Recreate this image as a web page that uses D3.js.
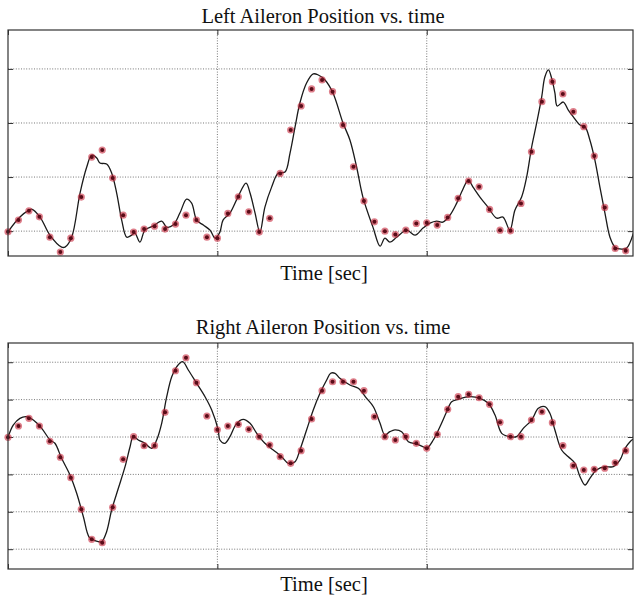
<!DOCTYPE html>
<html><head><meta charset="utf-8">
<script src="https://cdn.jsdelivr.net/npm/d3@7"></script>
<style>body{margin:0;background:#fff}svg{display:block}text{font-family:"Liberation Serif","Times New Roman",serif;fill:#111}</style>
</head><body>
<svg id="c" width="634" height="596"></svg>
<script>
// ---------- data ----------
const titles = ["Left Aileron Position vs. time", "Right Aileron Position vs. time"];
const xLabel = "Time [sec]";
const xTicks = [0, 10, 20, 30];
const topYTicks = [0, 5, 10, 15];
const botYTicks = [-15, -10, -5, 0, 5, 10];

const markerTime = [0,0.5,1,1.5,2,2.5,3,3.5,4,4.5,5,5.5,6,6.5,7,7.5,8,8.5,9,9.5,
  10,10.5,11,11.5,12,12.5,13,13.5,14,14.5,15,15.5,16,16.5,17,17.5,18,18.5,19,19.5,
  20,20.5,21,21.5,22,22.5,23,23.5,24,24.5,25,25.5,26,26.5,27,27.5,28,28.5,29,29.5];

const topMarkers = [-0.06,1.02,1.88,1.32,-0.56,-1.94,-0.65,3.15,6.85,7.5,
  4.91,1.48,-0.09,0.19,0.46,0.19,0.65,1.48,1.02,-0.56,
  -0.65,1.64,3.18,1.79,-0.09,1.18,5.34,9.35,11.57,13.15,
  13.98,12.9,9.81,5.95,2.78,0.86,0,-0.31,0.09,0.71,
  0.77,0.56,1.27,3.03,4.63,4.1,2.01,0.09,0.03,2.56,
  7.34,11.97,13.82,12.69,11.05,9.66,6.94,2.19,-1.6,-1.82];

const topLineT = [0,0.57,1.0,1.13,1.53,2.0,2.56,2.72,3.04,3.44,3.76,4.0,4.24,4.39,4.71,4.95,5.19,5.43,5.67,5.91,
  6.06,6.3,6.54,6.92,7.34,7.58,7.89,8.21,8.53,8.77,9.01,9.33,9.65,9.89,10.12,10.27,10.6,10.98,11.37,11.56,
  11.8,12.03,12.27,12.59,12.91,13.23,13.47,13.71,13.94,14.26,14.58,14.82,15.14,15.52,16.0,16.33,16.65,16.95,17.43,17.77,
  18.0,18.24,18.56,19.04,19.44,19.82,20.15,20.47,20.77,21.11,21.43,21.71,21.98,22.21,22.54,22.92,23.34,23.64,23.97,24.21,
  24.53,24.77,25.01,25.25,25.49,25.64,25.81,25.96,26.12,26.23,26.52,26.76,27.0,27.32,27.56,27.79,28.03,28.27,28.51,28.75,
  28.99,29.31,29.55,29.87];
const topLineV = [-0.06,1.3,1.94,2.04,1.3,-0.37,-1.48,-1.48,-0.56,3.52,5.93,7.04,6.76,6.3,6.2,5.37,3.52,1.02,-0.56,-0.37,
  -0.19,-1.02,0.09,0.46,0.93,0.37,0.56,1.67,2.96,2.59,1.02,0.56,0.09,-0.65,-0.09,1.02,1.67,3.15,4.44,3.52,
  1.67,-0.09,2.22,4.07,5.37,5.46,7.22,9.63,11.85,13.7,14.54,14.44,13.98,12.78,10.0,8.43,5.93,3.15,0.37,-1.39,
  -0.65,-1.02,-0.56,0.09,-0.37,0.28,0.74,0.93,0.83,1.48,2.59,3.8,4.72,4.07,3.15,2.22,1.2,1.3,0.09,1.94,
  3.15,5.0,7.78,10.0,12.41,14.26,14.91,14.17,12.78,11.57,11.94,11.2,10.56,9.81,9.63,8.43,6.57,4.07,1.67,-0.56,
  -1.48,-1.67,-1.57,-0.19];

const botMarkers = [-0.04,1.47,2.5,1.47,-0.57,-2.71,-5.44,-9.67,-13.68,-14.13,
  -9.4,-2.98,0.04,-1.16,-1.16,3.3,8.86,10.6,7.26,2.81,
  0.97,1.47,1.7,1.03,0.04,-1.07,-2.63,-3.52,-1.83,2.41,
  6.19,7.39,7.39,7.39,6.19,2.71,0.04,-0.4,0.04,-0.84,
  -1.51,0.36,3.7,5.39,5.71,5.25,4.37,1.97,0.04,0.04,
  2.27,3.38,1.91,-1.16,-3.84,-4.41,-4.32,-4.18,-3.44,-1.83];

const botLineT = [0,0.25,0.57,0.89,1.21,1.61,2.01,2.24,2.56,2.96,3.28,3.6,3.88,4.15,4.47,4.71,4.95,5.27,5.59,5.83,
  5.98,6.22,6.54,6.86,7.1,7.34,7.58,7.82,8.06,8.34,8.61,9.01,9.41,9.73,10.04,10.12,10.36,10.6,10.92,11.24,
  11.56,11.88,12.27,12.67,13.07,13.39,13.71,13.94,14.26,14.58,14.9,15.22,15.41,15.62,15.85,16.33,16.73,17.13,17.45,17.77,
  18.0,18.24,18.48,18.8,19.12,19.52,19.83,20.0,20.31,20.63,20.95,21.19,21.5,22.06,22.54,22.94,23.26,23.58,23.97,24.29,
  24.61,25.01,25.33,25.64,25.88,26.12,26.44,26.76,27.08,27.32,27.56,27.79,28.11,28.51,28.91,29.23,29.47,29.71,29.85];
const botLineV = [-0.04,1.6,2.5,2.71,2.27,1.16,-0.4,-0.84,-2.85,-5.08,-7.53,-10.66,-13.41,-13.86,-14.0,-12.66,-9.76,-6.86,-3.97,-1.3,
  0.04,-0.4,-0.84,-1.51,-0.4,1.83,5.39,8.06,9.4,10.07,8.96,7.18,5.39,3.61,0.94,-0.4,-0.84,0.04,1.83,2.37,
  1.83,0.49,-0.84,-1.74,-2.63,-3.52,-3.3,-1.74,0.94,3.61,5.84,7.62,8.52,8.52,7.85,6.95,6.51,5.17,4.05,1.83,
  0.27,0.71,0.94,0.71,-0.63,-0.94,-1.3,-1.51,-0.4,1.38,3.38,4.72,5.04,5.39,5.17,4.51,2.94,0.49,0.04,0.04,
  1.16,2.27,3.84,4.05,3.17,0.94,-1.74,-2.63,-3.52,-5.31,-6.42,-5.52,-4.41,-3.97,-3.97,-3.07,-1.51,-0.63,-0.31];

// ---------- drawing ----------
const svg = d3.select("#c");
const X0 = 8, X1 = 633;

function panel(cfg) {
  const x = d3.scaleLinear().domain([0, 29.85]).range([X0, X1]);
  const y = d3.scaleLinear().domain(cfg.yDomain).range([cfg.bottom, cfg.top]);
  const g = svg.append("g");
  const clipId = "clip" + cfg.id;
  svg.append("defs").append("clipPath").attr("id", clipId)
    .append("rect").attr("x", X0).attr("y", cfg.top).attr("width", X1 - X0).attr("height", cfg.bottom - cfg.top);

  // grid
  g.append("g").selectAll("line").data(cfg.yTicks).join("line")
    .attr("x1", X0).attr("x2", X1).attr("y1", d => y(d)).attr("y2", d => y(d))
    .attr("stroke", "#777").attr("stroke-width", 1).attr("stroke-dasharray", "1,1.6");
  g.append("g").selectAll("line").data(xTicks.filter(d => x(d) > X0 + 1 && x(d) < X1 - 1)).join("line")
    .attr("y1", cfg.top).attr("y2", cfg.bottom).attr("x1", d => x(d)).attr("x2", d => x(d))
    .attr("stroke", "#777").attr("stroke-width", 1).attr("stroke-dasharray", "1,1.6");

  // axes ticks (inward, no labels)
  const ax = [
    [d3.axisRight(y).tickValues(cfg.yTicks), X0],
    [d3.axisLeft(y).tickValues(cfg.yTicks), X1]];
  ax.forEach(([a, tx]) => {
    const ag = g.append("g").attr("transform", `translate(${tx},0)`)
      .call(a.tickSize(5).tickFormat(""));
    ag.select(".domain").remove();
    ag.selectAll("line").attr("stroke", "#333");
  });
  const axX = [
    [d3.axisTop(x).tickValues(xTicks.filter(d => x(d) <= X1)), cfg.bottom],
    [d3.axisBottom(x).tickValues(xTicks.filter(d => x(d) <= X1)), cfg.top]];
  axX.forEach(([a, ty]) => {
    const ag = g.append("g").attr("transform", `translate(0,${ty})`)
      .call(a.tickSize(5).tickFormat(""));
    ag.select(".domain").remove();
    ag.selectAll("line").attr("stroke", "#333");
  });

  // line
  const pts = cfg.lineT.map((t, i) => [t, cfg.lineV[i]]);
  g.append("path").datum(pts)
    .attr("clip-path", `url(#${clipId})`)
    .attr("fill", "none").attr("stroke", "#1a1a1a").attr("stroke-width", 1.3)
    .attr("d", d3.line().x(d => x(d[0])).y(d => y(d[1])).curve(d3.curveCatmullRom.alpha(0.5)));

  // markers
  const mk = markerTime.map((t, i) => [t, cfg.markers[i]]);
  g.append("g").selectAll("circle.h").data(mk).join("circle")
    .attr("cx", d => x(d[0])).attr("cy", d => y(d[1])).attr("r", 3.6)
    .attr("fill", "#c8283c").attr("opacity", 0.6);
  g.append("g").selectAll("circle.c").data(mk).join("circle")
    .attr("cx", d => x(d[0])).attr("cy", d => y(d[1])).attr("r", 2)
    .attr("fill", "#5a0c18");

  // box
  g.append("rect").attr("x", X0).attr("y", cfg.top).attr("width", X1 - X0).attr("height", cfg.bottom - cfg.top)
    .attr("fill", "none").attr("stroke", "#333").attr("stroke-width", 1.2);

  // texts
  svg.append("text").attr("x", 323).attr("y", cfg.titleY).attr("text-anchor", "middle")
    .attr("font-size", 20.5).text(cfg.title);
  svg.append("text").attr("x", 324).attr("y", cfg.labelY).attr("text-anchor", "middle")
    .attr("font-size", 20.5).text(xLabel);
}

panel({id: 1, top: 30, bottom: 256, yDomain: [-2.3, 18.6], yTicks: topYTicks,
  lineT: topLineT, lineV: topLineV, markers: topMarkers, title: titles[0], titleY: 23, labelY: 280});
panel({id: 2, top: 343, bottom: 569, yDomain: [-17.65, 12.57], yTicks: botYTicks,
  lineT: botLineT, lineV: botLineV, markers: botMarkers, title: titles[1], titleY: 334, labelY: 591});
</script>
</body></html>
